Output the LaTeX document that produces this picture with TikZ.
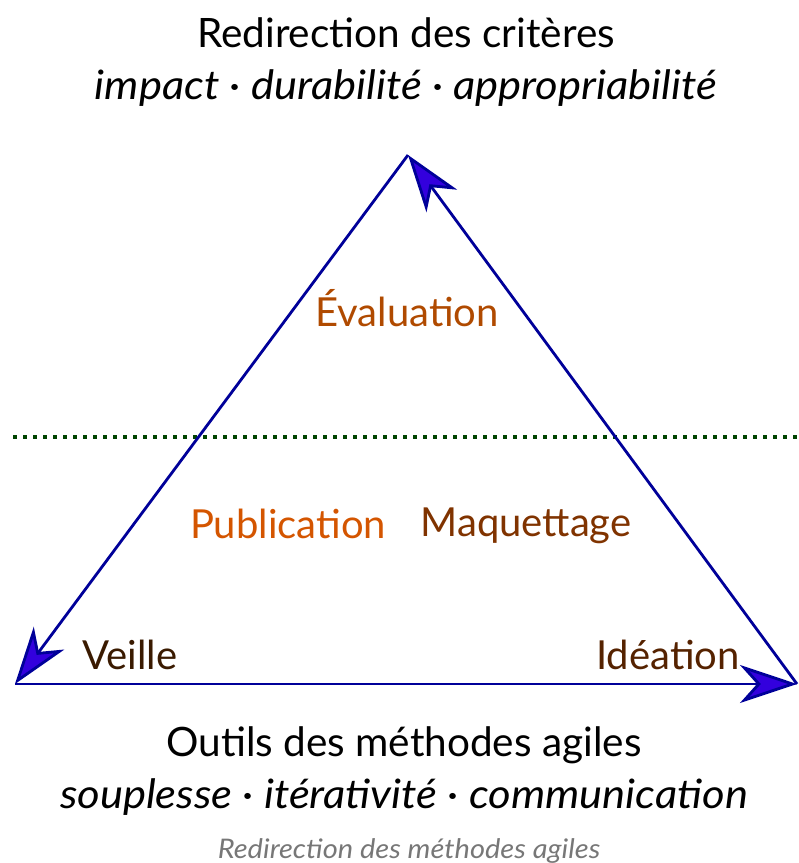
\documentclass[tikz,border=0pt]{standalone}
\usepackage{fontspec}
\setmainfont{Lato}
\newfontfamily\wideit[FakeStretch=1.075]{Lato Italic}
\usetikzlibrary{arrows.meta}
\definecolor{edgeblue}{RGB}{0,0,153}
\definecolor{tipblue}{RGB}{51,0,221}
\definecolor{dotgreen}{RGB}{0,68,0}
\definecolor{evalc}{RGB}{176,74,0}
\definecolor{pubc}{RGB}{212,85,0}
\definecolor{maqc}{RGB}{128,51,0}
\definecolor{veic}{RGB}{58,26,0}
\definecolor{ideac}{RGB}{85,34,0}
\definecolor{capc}{RGB}{119,119,119}
\tikzset{
  edge/.style={draw=edgeblue, line width=2.8pt, line join=miter,
    -{Stealth[length=57pt,width=38pt,inset=17pt,fill=tipblue]}},
  title/.style={font=\fontsize{40.5}{46}\selectfont, text=black, anchor=center},
  ititle/.style={font=\fontsize{40.5}{46}\selectfont\wideit, text=black, anchor=center},
  lab/.style={font=\fontsize{40}{46}\selectfont, anchor=center},
}
\begin{document}
\begin{tikzpicture}[x=1pt,y=-1pt]
\useasboundingbox (0,0) rectangle (799,863);
\coordinate (T) at (408,155);
\coordinate (L) at (15,684);
\coordinate (R) at (797,684);
\draw[dotgreen, line width=3.5pt, dash pattern=on 3.5pt off 6.5pt] (13,437) -- (799,437);
\draw[edge] (L) -- (R);
\draw[edge] (R) -- (T);
\draw[edge] (T) -- (L);
\node[title] (t1) at (406,33) {Redirection des critères};
\node[ititle] (t2) at (406,88) {impact · durabilité · appropriabilité};
\node[lab, text=evalc] (ev) at (407,308) {Évaluation};
\node[lab, text=pubc] (pu) at (288,524) {Publication};
\node[lab, text=maqc] (ma) at (526,526) {Maquettage};
\node[lab, text=veic] (ve) at (130,655) {Veille};
\node[lab, text=ideac] (id) at (668,655) {Idéation};
\node[title] (b1) at (404,745) {Outils des méthodes agiles};
\node[ititle] (b2) at (404,797) {souplesse · itérativité · communication};
\node[font=\fontsize{27}{32}\selectfont\wideit, text=capc] (cap) at (409,851) {Redirection des méthodes agiles};
\end{tikzpicture}
\end{document}
